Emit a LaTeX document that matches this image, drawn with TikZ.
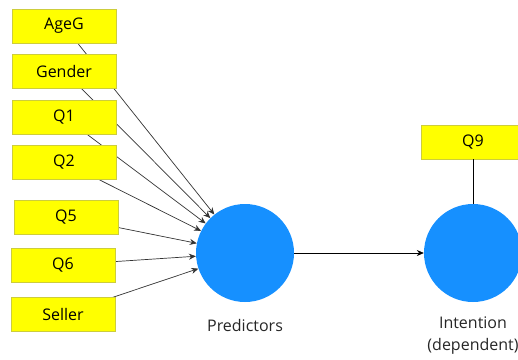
\documentclass[tikz,border=0pt]{standalone}
\usepackage{fontspec}
\setmainfont{Open Sans}
\usetikzlibrary{arrows.meta, backgrounds}

\definecolor{boxyellow}{RGB}{255,255,0}
\definecolor{boxedge}{RGB}{205,205,60}
\definecolor{latentblue}{RGB}{22,144,255}

\begin{document}
\begin{tikzpicture}[x=1pt, y=-1pt, >={Stealth[length=7pt, width=6pt]},
    item/.style={draw=boxedge, fill=boxyellow, minimum width=104pt, minimum height=34pt,
      inner sep=0pt, font=\fontsize{16}{19}\selectfont},
    latent/.style={circle, fill=latentblue, minimum size=98pt, inner sep=0pt},
    label/.style={font=\fontsize{16}{22}\selectfont, align=center, text=black!85},
    path/.style={->, line width=0.7pt, draw=black!80}]
    \clip (0,0) rectangle (518,359);

    % Latent variables
    \node[latent] (pred) at (245,253) {};
    \node[latent] (intent) at (473,253) {};
    \node[label] (predname) at (245,325) {Predictors};
    \node[label] (intentname) at (473,336) {Intention\\(dependent)};

    % Indicators
    \node[item] (ageg) at (64,26) {AgeG};
    \node[item] (gender) at (64,71) {Gender};
    \node[item] (qone) at (64,117) {Q1};
    \node[item] (qtwo) at (64,162) {Q2};
    \node[item] (qfive) at (66,217) {Q5};
    \node[item] (qsix) at (63,265) {Q6};
    \node[item] (seller) at (63,314) {Seller};
    \node[item] (qnine) at (473,142) {Q9};

    % Paths, kept under the boxes
    \begin{pgfonlayer}{background}
        \foreach \ind in {ageg, gender, qone, qtwo, qfive, qsix, seller}
            \draw[path] (\ind.center) -- (pred);
    \end{pgfonlayer}
    \draw[path, draw=black] (pred) -- (intent);
    \draw[line width=0.7pt] (qnine) -- (intent);
\end{tikzpicture}
\end{document}
